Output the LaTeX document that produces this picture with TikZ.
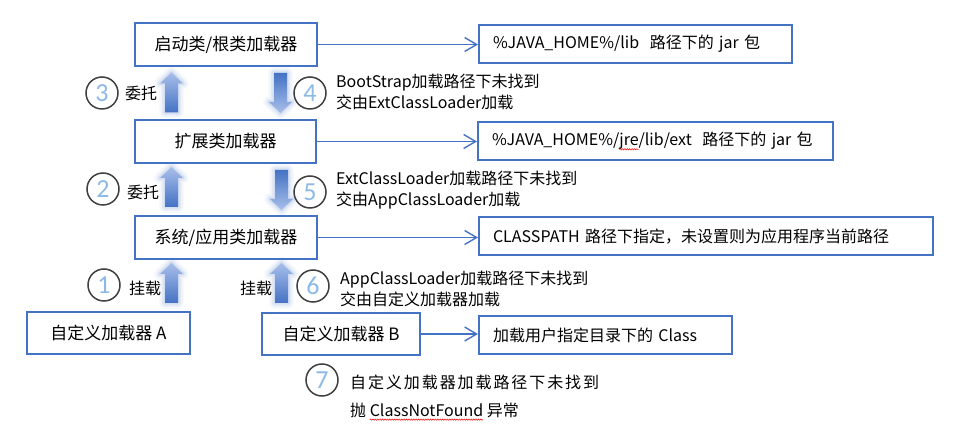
\documentclass[tikz,border=0pt]{standalone}
\usepackage{fontspec}
\setmainfont{Noto Sans CJK SC}
\newfontfamily\digitfont{Carlito}
\newfontfamily\spacedfont[LetterSpace=12]{Noto Sans CJK SC}
\usetikzlibrary{arrows.meta,decorations.pathmorphing}
\definecolor{boxblue}{HTML}{4472C4}
\definecolor{numblue}{HTML}{8DB9E6}
\definecolor{ringgray}{HTML}{404040}
\definecolor{lightarr}{HTML}{A8BFEA}
\newlength\wavelen
\newcommand\redwave[1]{\settowidth{\wavelen}{#1}\rlap{\tikz[overlay, x=1pt, y=1pt]
  \draw[red, line width=0.5pt, decorate, decoration={snake, amplitude=0.7pt, segment length=2.4pt}]
  (0,-3.5) -- (\the\wavelen,-3.5);}#1}
\tikzset{
  loader/.style={draw=boxblue, line width=2pt, minimum height=43pt, inner sep=0pt,
    font=\fontsize{17}{20}\selectfont},
  target/.style={draw=boxblue, line width=2pt, minimum height=38pt, inner xsep=14pt,
    inner ysep=0pt, anchor=west, align=left, font=\fontsize{16}{19}\selectfont},
  goes/.style={draw=boxblue, line width=1.4pt, -{Straight Barb[length=12pt,width=14pt]}},
  ring/.style={circle, draw=ringgray, line width=1.5pt, minimum size=32pt, inner sep=0pt,
    text=numblue, font=\digitfont\fontsize{26}{26}\selectfont},
  note/.style={anchor=west, align=left, inner sep=0pt, font=\fontsize{16}{21}\selectfont},
  uparrow/.pic={
    \foreach \w/\o in {12/0.04,9/0.05,6/0.07,3/0.1}
      \draw[line width=\w pt, boxblue, opacity=\o, line join=round]
        (0,-20) -- (11.5,-9) -- (6.5,-9) -- (6.5,20) -- (-6.5,20) -- (-6.5,-9) -- (-11.5,-9) -- cycle;
    \shade[top color=lightarr, bottom color=boxblue]
      (0,-20) -- (11.5,-9) -- (6.5,-9) -- (6.5,20) -- (-6.5,20) -- (-6.5,-9) -- (-11.5,-9) -- cycle;
  },
  downarrow/.pic={
    \foreach \w/\o in {12/0.04,9/0.05,6/0.07,3/0.1}
      \draw[line width=\w pt, boxblue, opacity=\o, line join=round]
        (0,20) -- (11.5,9) -- (6.5,9) -- (6.5,-20) -- (-6.5,-20) -- (-6.5,9) -- (-11.5,9) -- cycle;
    \shade[top color=boxblue, bottom color=lightarr]
      (0,20) -- (11.5,9) -- (6.5,9) -- (6.5,-20) -- (-6.5,-20) -- (-6.5,9) -- (-11.5,9) -- cycle;
  },
}
\begin{document}
\begin{tikzpicture}[x=1pt, y=-1pt]
  \useasboundingbox (0,0) rectangle (975,435);
  \node[loader, minimum width=182pt] (boot) at (226,44.5) {启动类/根类加载器};
  \node[loader, minimum width=181pt] (ext) at (225.5,141.5) {扩展类加载器};
  \node[loader, minimum width=182pt] (app) at (226,237.5) {系统/应用类加载器};
  \node[loader, minimum width=163pt, minimum height=42pt] (cusA) at (108.5,333) {自定义加载器 A};
  \node[loader, minimum width=158pt, minimum height=42pt] (cusB) at (341,334) {自定义加载器 B};

  \node[target, text width=285pt] (libdir) at (478,44) {\%JAVA\_HOME\%/lib\ \ 路径下的 jar 包};
  \node[target, text width=327pt] (extdir) at (477,141) {\%JAVA\_HOME\%/\redwave{jre}/lib/ext\ \ 路径下的 jar 包};
  \node[target, text width=426pt] (cpdir) at (478,236.5) {CLASSPATH 路径下指定，未设置则为应用程序当前路径};
  \node[target, text width=225pt] (userdir) at (478,335) {加载用户指定目录下的 Class};

  \begin{scope}[goes]
    \draw (boot.east) -- (boot.east -| libdir.west);
    \draw (ext.east) -- (ext.east -| extdir.west);
    \draw (app.east) -- (app.east -| cpdir.west);
    \draw (cusB.east) -- (cusB.east -| userdir.west);
  \end{scope}

  \pic at (171.5,92.5) {uparrow};
  \pic at (280.5,93) {downarrow};
  \pic at (171.5,187) {uparrow};
  \pic at (281.5,190) {downarrow};
  \pic at (171.5,283) {uparrow};
  \pic at (281.5,283) {uparrow};

  \node[ring] (n1) at (104,285) {1};
  \node[ring] (n2) at (103,189) {2};
  \node[ring] (n3) at (102,93) {3};
  \node[ring] (n4) at (310,93) {4};
  \node[ring] (n5) at (310,192) {5};
  \node[ring] (n6) at (313,286) {6};
  \node[ring] (n7) at (322,380) {7};

  \node[note] (w3) at (125,93) {委托};
  \node[note] (w2) at (127,192) {委托};
  \node[note] (m1) at (129,288) {挂载};
  \node[note] (m6) at (240,288) {挂载};
  \node[note] (t4) at (336,91.5) {BootStrap加载路径下未找到\\交由ExtClassLoader加载};
  \node[note] (t5) at (336,190) {ExtClassLoader加载路径下未找到\\交由AppClassLoader加载};
  \node[note] (t6) at (340,288.5) {AppClassLoader加载路径下未找到\\交由自定义加载器加载};
  \node[note, font=\fontsize{16}{28}\selectfont] (t7) at (350,396)
    {{\spacedfont 自定义加载器加载路径下未找到}\\抛 \redwave{ClassNotFound} 异常};
\end{tikzpicture}
\end{document}
